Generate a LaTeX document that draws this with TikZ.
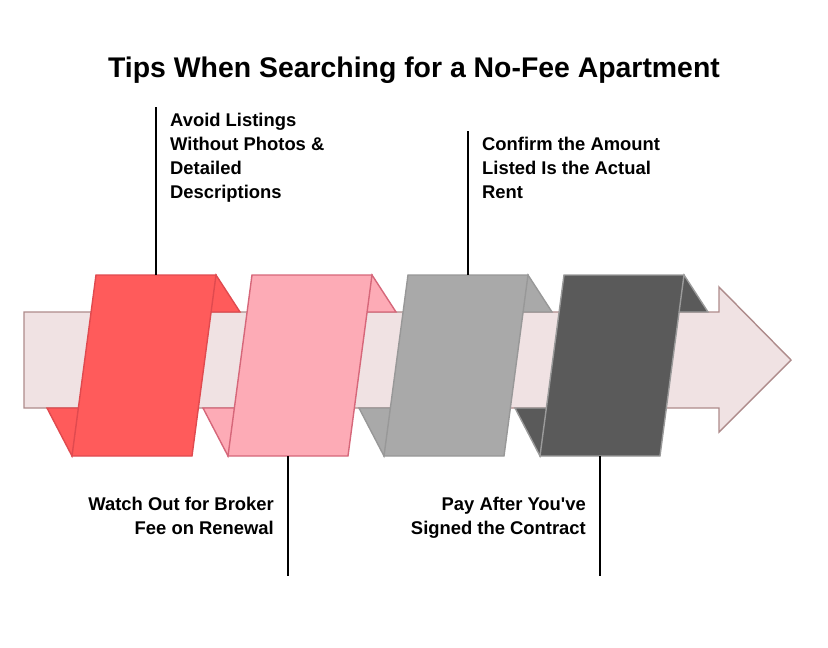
\documentclass[tikz,border=0pt]{standalone}
\usepackage{fontspec}
\setmainfont{Liberation Sans}
\definecolor{bandF}{HTML}{F0E2E3}
\definecolor{bandL}{HTML}{AE8B8B}
\definecolor{redF}{HTML}{FF5B5B}
\definecolor{redL}{HTML}{E04A4F}
\definecolor{pinkF}{HTML}{FDABB6}
\definecolor{pinkL}{HTML}{D6677A}
\definecolor{grayF}{HTML}{A9A9A9}
\definecolor{grayL}{HTML}{989898}
\definecolor{darkF}{HTML}{5A5A5A}
\definecolor{darkL}{HTML}{9A9A9A}
\begin{document}
\begin{tikzpicture}[x=1pt,y=-1pt,
  band/.style={fill=bandF,draw=bandL,line width=1.4pt,line join=miter},
  panel/.style={line width=1.4pt,line join=miter},
  conn/.style={draw=black,line width=1.8pt},
  titletext/.style={font=\fontsize{28.4}{34}\selectfont\bfseries,inner sep=0pt,anchor=base},
  tiptext/.style={font=\fontsize{18.4}{24}\selectfont\bfseries,inner sep=0pt}]
\useasboundingbox (0,0) rectangle (828,648);
\fill[white] (0,0) rectangle (828,648);
\node[titletext] (title) at (414,77) {Tips When Searching for a No-Fee Apartment};
\draw[band] (24,312) -- (719,312) -- (719,287) -- (791,360) -- (719,432) -- (719,408) -- (24,408) -- cycle;
\foreach \tx/\fc/\lc [count=\i] in {96/redF/redL,252/pinkF/pinkL,408/grayF/grayL,564/darkF/darkL}{
  \filldraw[panel,fill=\fc,draw=\lc] (\tx+120,275) -- (\tx+144,312) -- (\tx+110,312) -- cycle;
  \filldraw[panel,fill=\fc,draw=\lc] (\tx-49,408) -- (\tx-24,456) -- (\tx-14,408) -- cycle;
  \filldraw[panel,fill=\fc,draw=\lc] (\tx,275) -- (\tx+120,275) -- (\tx+96,456) -- (\tx-24,456) -- cycle;
  \coordinate (top\i) at (\tx+60,275);
  \coordinate (bot\i) at (\tx+36,456);
}
\coordinate (e1) at (156,107);
\coordinate (e2) at (288,576);
\coordinate (e3) at (468,131);
\coordinate (e4) at (600,576);
\draw[conn] (top1) -- (e1);
\draw[conn] (bot2) -- (e2);
\draw[conn] (top3) -- (e3);
\draw[conn] (bot4) -- (e4);
\node[tiptext,align=left,anchor=base west] (t1) at (170,198.6) {Avoid Listings\\Without Photos \&\\Detailed\\Descriptions};
\node[tiptext,align=left,anchor=base west] (t3) at (482,198.6) {Confirm the Amount\\Listed Is the Actual\\Rent};
\node[tiptext,align=right,anchor=base east] (t2) at (274,534.6) {Watch Out for Broker\\Fee on Renewal};
\node[tiptext,align=right,anchor=base east] (t4) at (586,534.6) {Pay After You\textquotesingle ve\\Signed the Contract};
\end{tikzpicture}
\end{document}
